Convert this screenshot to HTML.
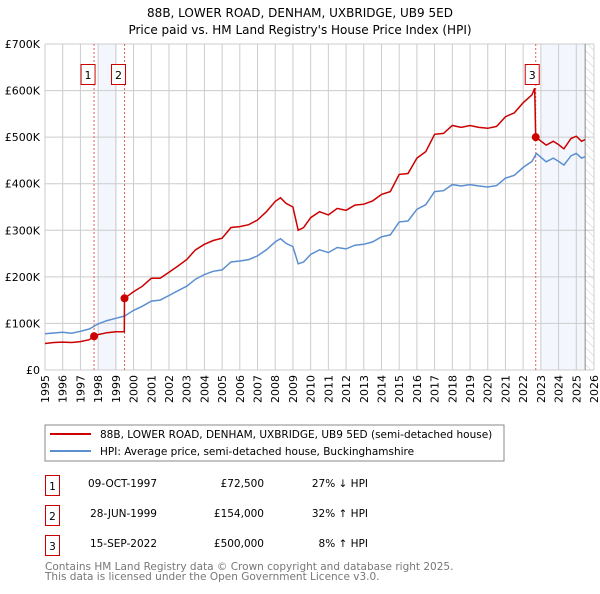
<!DOCTYPE html>
<html><head><meta charset="utf-8"><style>
body{margin:0;background:#fff;font-family:"DejaVu Sans","Liberation Sans",sans-serif;}
svg text{font-family:"DejaVu Sans","Liberation Sans",sans-serif;}
</style></head><body>
<svg id="c" width="600" height="590" viewBox="0 0 600 590" xmlns="http://www.w3.org/2000/svg">
<text x="300" y="17" text-anchor="middle" font-size="12">88B, LOWER ROAD, DENHAM, UXBRIDGE, UB9 5ED</text>
<text x="300" y="34" text-anchor="middle" font-size="12">Price paid vs. HM Land Registry's House Price Index (HPI)</text>
<defs><pattern id="hatch" width="6" height="6" patternUnits="userSpaceOnUse" patternTransform="rotate(-45)"><line x1="0" y1="0" x2="0" y2="6" stroke="#ccc" stroke-width="1"/></pattern></defs>
<g id="plot"></g>
<rect x="45" y="425" width="459" height="36" fill="#fff" stroke="#888"/>
<line x1="50" y1="434" x2="91" y2="434" stroke="#cc0000" stroke-width="2"/>
<text x="100" y="438" font-size="10.5">88B, LOWER ROAD, DENHAM, UXBRIDGE, UB9 5ED (semi-detached house)</text>
<line x1="50" y1="451" x2="91" y2="451" stroke="#5b8fd0" stroke-width="2"/>
<text x="100" y="455" font-size="10.5">HPI: Average price, semi-detached house, Buckinghamshire</text>
<g font-size="10.5">
<rect x="45.5" y="475.5" width="14" height="20" fill="#fff" stroke="#cc0000"/><text x="52.5" y="490" text-anchor="middle">1</text>
<text x="157" y="487" text-anchor="end">09-OCT-1997</text><text x="264" y="487" text-anchor="end">£72,500</text><text x="368" y="487" text-anchor="end">27% ↓ HPI</text>
<rect x="45.5" y="505.5" width="14" height="20" fill="#fff" stroke="#cc0000"/><text x="52.5" y="520" text-anchor="middle">2</text>
<text x="157" y="517" text-anchor="end">28-JUN-1999</text><text x="264" y="517" text-anchor="end">£154,000</text><text x="368" y="517" text-anchor="end">32% ↑ HPI</text>
<rect x="45.5" y="535.5" width="14" height="20" fill="#fff" stroke="#cc0000"/><text x="52.5" y="550" text-anchor="middle">3</text>
<text x="157" y="547" text-anchor="end">15-SEP-2022</text><text x="264" y="547" text-anchor="end">£500,000</text><text x="368" y="547" text-anchor="end">8% ↑ HPI</text>
</g>
<text x="45" y="570" font-size="10.5" fill="#777">Contains HM Land Registry data © Crown copyright and database right 2025.</text>
<text x="45" y="580" font-size="10.5" fill="#777">This data is licensed under the Open Government Licence v3.0.</text>
</svg>
<script>
const yTicks=[0,100,200,300,400,500,600,700];
const yTickLabels=["£0","£100K","£200K","£300K","£400K","£500K","£600K","£700K"];
const years=[1995,1996,1997,1998,1999,2000,2001,2002,2003,2004,2005,2006,2007,2008,2009,2010,2011,2012,2013,2014,2015,2016,2017,2018,2019,2020,2021,2022,2023,2024,2025,2026];
const hpiT=[1995,1996,1996.5,1997,1997.5,1998,1998.5,1999,1999.5,2000,2000.5,2001,2001.5,2002,2002.5,2003,2003.5,2004,2004.5,2005,2005.5,2006,2006.5,2007,2007.5,2008,2008.3,2008.6,2009,2009.3,2009.6,2010,2010.5,2011,2011.5,2012,2012.5,2013,2013.5,2014,2014.5,2015,2015.5,2016,2016.5,2017,2017.5,2018,2018.5,2019,2019.5,2020,2020.5,2021,2021.5,2022,2022.5,2022.75,2023.3,2023.7,2024,2024.3,2024.7,2025,2025.3,2025.5];
const hpiV=[78,81,79,83,88,99,106,111,116,128,137,148,150,160,170,180,195,205,212,215,232,234,237,245,258,275,282,272,265,228,232,248,258,252,263,260,268,270,275,286,290,318,320,345,355,383,385,398,395,398,395,393,396,412,418,435,448,465,447,455,448,440,460,465,455,458];
const propT=[1995,1995.5,1996,1996.5,1997,1997.5,1997.77,1998,1998.5,1999,1999.48,1999.49,2000,2000.5,2001,2001.5,2002,2002.5,2003,2003.5,2004,2004.5,2005,2005.5,2006,2006.5,2007,2007.5,2008,2008.3,2008.6,2009,2009.3,2009.6,2010,2010.5,2011,2011.5,2012,2012.5,2013,2013.5,2014,2014.5,2015,2015.5,2016,2016.5,2017,2017.5,2018,2018.5,2019,2019.5,2020,2020.5,2021,2021.5,2022,2022.5,2022.65,2022.71,2023.3,2023.7,2024,2024.3,2024.7,2025,2025.3,2025.5];
const propV=[57,59,60,59,61,65,72.5,76,80,82,82,154,168,180,197,197,210,223,237,258,270,278,283,306,308,312,322,340,362,370,358,350,300,306,327,340,333,347,343,354,356,363,377,383,420,422,455,469,506,508,525,521,525,521,519,523,544,552,574,591,605,500,483,491,484,475,497,502,491,495];
const saleT=[1997.77,1999.49,2022.71];
const saleV=[72.5,154,500];
const saleLabels=["1","2","3"];
const X0=45,X1=594,Y0=370,Y1=44;
const xS=t=>X0+(t-1995)/(2026-1995)*(X1-X0);
const yS=v=>Y0-v/700*(Y0-Y1);
const NS="http://www.w3.org/2000/svg";
const g=document.getElementById('plot');
function mk(tag,attrs,parent){const e=document.createElementNS(NS,tag);for(const k in attrs)e.setAttribute(k,attrs[k]);(parent||g).appendChild(e);return e;}
let e;
e=mk('rect',{x:xS(1998),y:Y1,width:xS(1999.06)-xS(1998),height:Y0-Y1,fill:'#eef3fc',opacity:0.7});


e=mk('rect',{x:xS(2023),y:Y1,width:xS(2025.5)-xS(2023),height:Y0-Y1,fill:'#eef3fc',opacity:0.7});


e=mk('rect',{x:xS(2025.5),y:Y1,width:X1-xS(2025.5),height:Y0-Y1,fill:'url(#hatch)'});


years.forEach((y,i)=>{
 e=mk('line',{x1:xS(y),x2:xS(y),y1:Y1,y2:Y0,stroke:'#ccc','stroke-width':1});
 
 
 e=mk('text',{x:0,y:0,transform:`translate(${xS(y)+4},${Y0+5}) rotate(-90)`,'text-anchor':'end','font-size':'11'});
 e.textContent=y;
 
 
});
yTicks.forEach((v,i)=>{
 e=mk('line',{x1:X0,x2:X1,y1:yS(v),y2:yS(v),stroke:'#ccc','stroke-width':1});
 
 
 e=mk('text',{x:40,y:yS(v)+4,'text-anchor':'end','font-size':'11'});
 e.textContent=yTickLabels[i];
 
 
});
e=mk('line',{x1:xS(2025.5),x2:xS(2025.5),y1:Y1,y2:Y0,stroke:'#888','stroke-width':1});


saleT.forEach((t,i)=>{
 e=mk('line',{x1:xS(t),x2:xS(t),y1:Y1,y2:Y0,stroke:'#e06060','stroke-width':1,'stroke-dasharray':'2,2'});
 
 
});
function path(T,V){return T.map((t,i)=>(i?'L':'M')+xS(t).toFixed(1)+','+yS(V[i]).toFixed(1)).join('');}
e=mk('path',{d:path(hpiT,hpiV),fill:'none',stroke:'#5b8fd0','stroke-width':1.5});


e=mk('path',{d:path(propT,propV),fill:'none',stroke:'#cc0000','stroke-width':1.5});


saleT.forEach((t,i)=>{
 e=mk('circle',{cx:xS(t),cy:yS(saleV[i]),r:4,fill:'#cc0000'});
 
 
 const bx=xS(t)-(i==2?10:10);
 e=mk('rect',{x:bx-(i==2?-2.5:0)-3,y:64.5,width:14,height:20,fill:'#fff',stroke:'#cc0000'});
 
 
 e=mk('text',{x:bx-(i==2?-2.5:0)+4,y:79,'text-anchor':'middle','font-size':'11'});
 e.textContent=saleLabels[i];
 
 
});
</script>
</body></html>
